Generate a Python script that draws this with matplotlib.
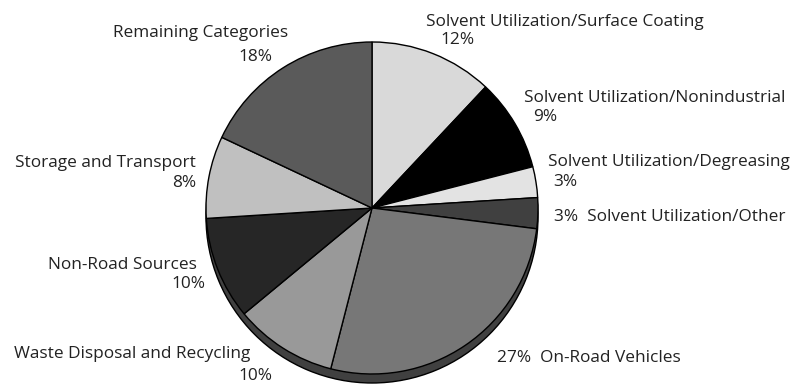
import matplotlib.pyplot as plt

plt.rcParams["font.family"] = ["Open Sans", "DejaVu Sans"]

categories = [
    "Solvent Utilization/Surface Coating",
    "Solvent Utilization/Nonindustrial",
    "Solvent Utilization/Degreasing",
    "Solvent Utilization/Other",
    "On-Road Vehicles",
    "Waste Disposal and Recycling",
    "Non-Road Sources",
    "Storage and Transport",
    "Remaining Categories",
]
shares = [12, 9, 3, 3, 27, 10, 10, 8, 18]
colors = ["#d9d9d9", "#000000", "#e3e3e3", "#404040", "#777777",
          "#999999", "#262626", "#c0c0c0", "#5a5a5a"]

W, H = 794, 385
fig = plt.figure(figsize=(W / 100, H / 100), dpi=100)
ax = fig.add_axes([0, 0, 1, 1])

cx, cy, r = 372, H - 208, 166
depth = 9

# extruded rim underneath the face
ax.pie([1], colors=["#404040"], radius=r, center=(cx, cy - depth),
       wedgeprops=dict(edgecolor="black", linewidth=1.0), frame=True)
ax.pie(shares, colors=colors, radius=r, center=(cx, cy), startangle=90,
       counterclock=False,
       wedgeprops=dict(edgecolor="black", linewidth=1.0), frame=True)

ax.set_aspect("auto")
ax.set_xlim(0, W)
ax.set_ylim(0, H)
ax.axis("off")

fs = 12.4
tc = "#222222"


def put(x, y, s, ha="left"):
    ax.text(x, H - y, s, ha=ha, va="center", fontsize=fs, color=tc)


pct = [f"{v}%" for v in shares]

# right side
put(426, 22, categories[0])
put(440, 40, pct[0])
put(524, 98, categories[1])
put(533, 117, pct[1])
put(548, 162, categories[2])
put(553, 182, pct[2])
put(554, 217, f"{pct[3]}  {categories[3]}")
put(497, 358, f"{pct[4]}  {categories[4]}")

# left side
put(250, 354, categories[5], ha="right")
put(272, 376, pct[5], ha="right")
put(197, 265, categories[6], ha="right")
put(205, 284, pct[6], ha="right")
put(196, 163, categories[7], ha="right")
put(196, 183, pct[7], ha="right")
put(288, 33, categories[8], ha="right")
put(272, 57, pct[8], ha="right")

fig.savefig("out.png", dpi=100)
